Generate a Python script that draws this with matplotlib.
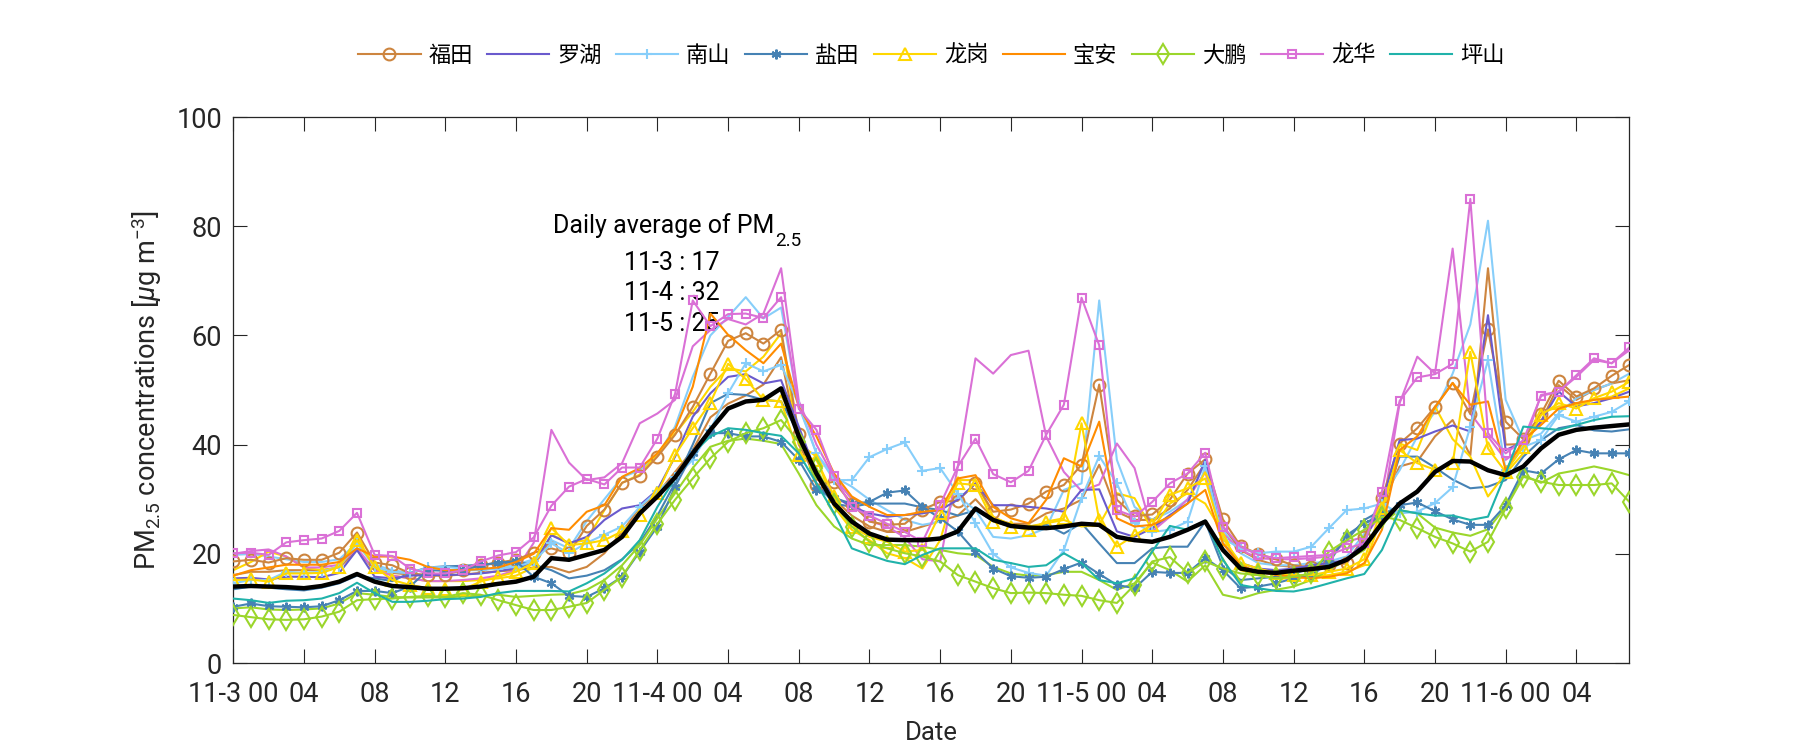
import numpy as np
import matplotlib
matplotlib.use("Agg")
import matplotlib.pyplot as plt

plt.rcParams.update({"font.family": ["Roboto", "Noto Sans CJK SC"],
                     "mathtext.fontset": "custom", "mathtext.rm": "Roboto",
                     "mathtext.it": "Roboto:italic", "mathtext.bf": "Roboto:bold",
                     "axes.unicode_minus": False})

hours = np.arange(80)   # 11-3 00 .. 11-6 07, hourly

avg = [14.0, 14.1, 14.0, 13.9, 13.7, 14.1, 14.9, 16.3, 14.9, 14.1,
       13.9, 13.6, 13.6, 13.7, 14.0, 14.5, 14.9, 15.8, 19.2, 18.9,
       19.8, 20.7, 23.1, 27.4, 30.5, 34.0, 38.4, 42.7, 46.6, 47.9,
       48.2, 50.3, 41.5, 34.7, 29.2, 25.9, 23.7, 22.6, 22.5, 22.5,
       22.8, 24.1, 28.3, 26.2, 25.1, 24.8, 24.7, 25.0, 25.5, 25.3,
       23.1, 22.5, 22.2, 23.1, 24.4, 25.9, 20.7, 17.3, 16.7, 16.5,
       16.9, 17.2, 17.6, 18.9, 21.3, 25.6, 29.2, 31.4, 35.0, 37.0,
       36.9, 35.3, 34.4, 36.0, 39.3, 41.8, 42.7, 43.1, 43.4, 43.7]

futian = [18.6, 18.9, 18.4, 19.2, 18.9, 18.9, 20.2, 23.9, 18.4, 17.9,
          16.4, 16.1, 16.2, 17.0, 17.9, 18.4, 18.9, 20.2, 21.0, 20.1,
          25.1, 28.1, 33.0, 34.3, 37.8, 41.8, 46.9, 53.0, 59.0, 60.4,
          58.5, 61.0, 42.0, 32.6, 33.2, 29.2, 25.9, 25.3, 25.5, 28.1,
          29.5, 29.7, 32.9, 27.7, 28.1, 29.2, 31.4, 32.6, 36.3, 51.0,
          29.9, 26.9, 27.2, 29.9, 34.7, 37.3, 26.3, 21.4, 20.0, 19.0,
          17.9, 17.5, 17.9, 18.3, 23.1, 30.2, 40.2, 43.0, 46.9, 51.3,
          45.6, 61.1, 44.2, 41.0, 45.6, 51.7, 48.8, 50.3, 52.6, 54.6]
futian_b = [16.1, 16.7, 16.7, 17.0, 17.0, 17.0, 17.5, 20.7, 17.0, 16.5,
            16.2, 16.0, 16.0, 16.2, 16.5, 16.8, 17.0, 17.5, 17.6, 16.6,
            17.6, 20.1, 24.0, 28.5, 31.0, 35.0, 39.0, 45.0, 47.5, 49.0,
            51.0, 56.0, 40.0, 34.0, 30.0, 27.0, 25.0, 24.0, 24.0, 25.0,
            26.0, 27.0, 30.0, 26.5, 25.5, 25.5, 27.4, 28.3, 29.9, 36.3,
            27.7, 26.2, 26.2, 28.3, 31.7, 36.6, 25.0, 20.7, 18.9, 17.9,
            17.6, 17.6, 17.9, 18.3, 22.5, 28.9, 36.0, 36.9, 41.5, 44.5,
            38.0, 72.3, 40.0, 40.1, 44.2, 50.9, 48.2, 50.0, 51.2, 51.8]
luohu = [15.5, 15.6, 15.3, 15.8, 15.8, 15.7, 16.5, 20.7, 15.8, 15.5,
         16.0, 16.1, 16.1, 16.2, 16.4, 16.8, 17.4, 18.3, 23.4, 21.9,
         23.1, 26.2, 28.3, 28.9, 31.7, 37.8, 45.1, 49.4, 52.4, 52.9,
         51.2, 51.8, 43.3, 34.7, 30.5, 28.6, 27.4, 26.8, 27.1, 27.4,
         28.0, 29.9, 32.9, 28.9, 28.9, 28.6, 28.3, 27.7, 31.7, 31.8,
         24.1, 23.1, 24.7, 27.1, 29.2, 37.2, 21.9, 18.3, 17.3, 17.0,
         17.3, 17.9, 18.3, 18.9, 22.2, 29.2, 40.8, 41.1, 42.4, 43.5,
         42.4, 63.7, 39.0, 40.5, 44.2, 49.7, 47.0, 47.6, 48.5, 49.7]
nanshan = [14.6, 15.2, 15.2, 16.7, 16.5, 16.7, 17.6, 21.9, 17.6, 16.7,
           16.4, 17.5, 17.6, 17.3, 17.0, 17.3, 17.6, 18.6, 21.9, 20.1,
           22.0, 23.5, 25.0, 28.6, 31.5, 34.0, 37.2, 42.7, 49.4, 54.9,
           53.4, 54.6, 47.3, 38.4, 33.5, 33.5, 37.7, 39.2, 40.4, 35.2,
           35.7, 31.0, 25.6, 20.0, 17.5, 16.5, 16.0, 20.7, 30.2, 37.9,
           32.9, 25.6, 24.0, 24.4, 25.9, 36.0, 22.8, 21.0, 20.1, 20.4,
           20.4, 21.3, 24.7, 28.0, 28.3, 29.2, 27.4, 27.7, 29.3, 32.2,
           43.3, 55.5, 35.3, 39.6, 40.8, 45.4, 44.2, 45.1, 46.0, 47.9]
nanshan_b = [19.8, 20.0, 19.5, 19.0, 18.5, 18.5, 19.0, 22.0, 18.0, 17.0,
             16.5, 16.0, 16.5, 17.0, 17.0, 17.5, 18.0, 19.0, 22.5, 21.0,
             26.0, 30.0, 34.0, 35.3, 38.0, 43.3, 52.4, 60.0, 63.4, 67.0,
             63.1, 65.1, 47.0, 38.4, 34.1, 32.3, 29.9, 28.0, 26.2, 25.3,
             25.9, 30.5, 28.0, 23.1, 22.8, 23.4, 24.7, 31.7, 32.9, 66.4,
             37.2, 28.6, 26.2, 27.7, 29.9, 36.6, 24.4, 20.1, 18.3, 17.9,
             17.9, 18.3, 18.6, 19.5, 23.7, 30.5, 35.3, 41.5, 46.0, 53.0,
             62.0, 81.0, 48.2, 40.8, 42.0, 45.7, 48.5, 50.0, 51.2, 53.0]
yantian = [10.3, 10.9, 10.4, 10.3, 10.2, 10.4, 11.5, 13.2, 13.2, 12.8,
           14.0, 17.0, 16.9, 17.0, 17.9, 18.4, 18.6, 15.8, 14.6, 12.3,
           12.1, 13.7, 15.8, 20.4, 25.0, 32.3, 38.4, 42.1, 42.1, 41.5,
           41.5, 40.5, 37.2, 31.7, 30.2, 29.2, 29.5, 31.2, 31.6, 28.6,
           26.5, 24.1, 20.4, 17.3, 15.9, 15.6, 15.8, 17.2, 18.4, 16.3,
           14.3, 13.7, 16.7, 16.5, 16.5, 19.2, 17.0, 13.7, 14.0, 14.6,
           15.5, 16.1, 18.3, 23.4, 25.6, 27.1, 28.9, 29.4, 27.8, 26.3,
           25.3, 25.3, 28.9, 35.3, 34.7, 37.3, 39.0, 38.4, 38.4, 38.4]
yantian_b = [13.5, 14.0, 13.8, 13.5, 13.3, 13.8, 14.6, 16.0, 15.5, 15.0,
             16.5, 17.5, 17.7, 17.8, 18.0, 18.2, 18.5, 18.0, 17.0, 15.5,
             16.0, 17.0, 19.0, 22.0, 27.0, 33.0, 40.0, 47.6, 49.3, 49.1,
             48.2, 47.9, 42.0, 32.9, 29.2, 28.6, 29.2, 29.2, 29.2, 28.5,
             28.0, 27.0, 28.0, 26.0, 25.0, 25.0, 25.3, 23.7, 25.6, 21.9,
             18.3, 18.3, 21.0, 21.3, 21.3, 25.9, 17.6, 15.2, 15.5, 15.8,
             16.4, 17.3, 19.5, 22.5, 26.2, 28.0, 37.8, 37.8, 35.8, 33.6,
             32.0, 32.3, 33.5, 37.8, 40.8, 43.0, 43.6, 42.6, 42.4, 42.8]
longgang = [15.2, 15.3, 14.9, 16.4, 16.4, 16.5, 17.6, 22.5, 17.6, 15.2,
            14.3, 13.7, 13.5, 13.5, 14.9, 15.8, 16.7, 18.4, 24.7, 21.6,
            21.9, 22.5, 24.1, 27.1, 31.1, 38.1, 43.0, 47.7, 54.8, 52.0,
            48.2, 47.9, 38.1, 37.2, 30.5, 25.0, 23.1, 22.2, 20.4, 20.7,
            27.4, 32.9, 32.6, 25.9, 25.0, 24.4, 25.9, 26.5, 43.9, 26.2,
            21.3, 23.4, 25.3, 30.8, 32.0, 33.8, 22.8, 18.3, 17.3, 16.5,
            16.1, 16.1, 16.7, 17.3, 19.0, 28.3, 39.0, 36.6, 35.4, 36.6,
            57.0, 39.3, 35.0, 39.6, 45.4, 47.6, 46.6, 48.5, 49.7, 51.5]
longgang_b = [17.0, 18.5, 20.4, 19.5, 17.5, 17.0, 17.5, 23.0, 17.5, 16.0,
              15.5, 15.0, 15.0, 15.0, 15.2, 15.5, 16.0, 17.5, 23.5, 22.0,
              22.5, 28.0, 33.0, 34.5, 38.4, 42.0, 46.0, 50.6, 54.0, 53.4,
              56.1, 60.4, 40.2, 37.8, 28.6, 24.4, 22.5, 20.1, 19.2, 17.3,
              22.5, 33.5, 33.5, 26.8, 25.3, 25.0, 25.6, 26.2, 25.0, 25.3,
              31.1, 30.2, 24.4, 29.2, 31.1, 29.2, 23.7, 17.0, 16.1, 15.5,
              15.5, 15.8, 16.1, 16.7, 17.9, 26.8, 40.2, 39.0, 47.0, 41.0,
              37.8, 30.5, 34.7, 38.4, 45.7, 47.0, 47.3, 48.2, 48.8, 50.3]
baoan = [16.0, 17.0, 17.5, 18.0, 18.0, 18.0, 18.5, 21.0, 19.5, 19.5,
         18.9, 17.6, 17.0, 17.0, 17.2, 17.5, 18.5, 20.0, 24.7, 24.4,
         27.7, 28.9, 34.1, 35.7, 38.4, 42.7, 50.6, 64.0, 60.1, 57.3,
         54.9, 58.5, 46.9, 41.5, 34.7, 30.5, 28.6, 27.1, 27.1, 27.7,
         28.0, 33.8, 34.4, 28.6, 26.5, 25.6, 29.9, 37.5, 36.0, 44.2,
         26.5, 25.0, 25.3, 26.8, 29.2, 31.7, 21.9, 17.9, 16.7, 16.1,
         15.8, 15.5, 15.8, 16.4, 18.3, 24.4, 39.0, 41.5, 46.8, 51.3,
         47.3, 47.9, 35.3, 40.8, 43.6, 46.6, 47.6, 48.2, 48.5, 48.8]
dapeng = [8.8, 8.4, 8.0, 7.9, 8.0, 8.5, 9.4, 11.5, 11.7, 11.8,
          12.1, 12.3, 12.1, 12.8, 12.5, 11.5, 10.6, 9.7, 9.7, 10.3,
          11.0, 13.4, 15.8, 20.7, 25.5, 29.9, 33.8, 37.5, 40.5, 42.1,
          43.0, 44.5, 40.5, 35.7, 29.2, 25.0, 22.2, 21.0, 20.1, 19.5,
          18.6, 16.1, 14.9, 13.7, 12.8, 12.9, 12.8, 12.5, 12.3, 11.5,
          11.0, 14.3, 18.6, 19.4, 16.5, 18.6, 17.3, 16.4, 16.1, 15.5,
          15.8, 16.4, 20.4, 22.5, 24.4, 26.8, 26.2, 24.7, 23.1, 21.9,
          20.4, 22.2, 28.3, 34.1, 33.2, 32.6, 32.6, 32.6, 32.9, 29.5]
dapeng_b = [10.0, 10.2, 9.8, 9.7, 9.8, 10.0, 10.9, 12.8, 12.5, 12.1,
            12.0, 12.0, 12.0, 12.2, 12.3, 12.5, 12.1, 12.3, 12.5, 12.6,
            13.4, 15.2, 17.9, 21.6, 26.5, 31.1, 35.7, 39.6, 40.7, 41.1,
            40.7, 40.1, 34.7, 28.9, 25.0, 22.8, 21.6, 21.6, 21.6, 21.3,
            20.7, 20.1, 19.8, 17.6, 16.4, 16.0, 16.1, 16.7, 16.7, 15.2,
            13.4, 14.6, 18.4, 17.0, 14.9, 17.9, 12.5, 11.8, 12.8, 13.4,
            14.0, 15.2, 17.0, 18.9, 20.7, 25.6, 28.0, 27.4, 24.8, 23.9,
            23.3, 24.5, 28.6, 34.4, 33.0, 34.7, 35.3, 36.0, 35.3, 34.4]
longhua = [20.1, 20.2, 19.8, 22.1, 22.5, 22.8, 24.2, 27.5, 19.8, 19.6,
           17.3, 16.4, 16.4, 17.0, 18.6, 19.7, 20.3, 23.0, 28.8, 32.3,
           33.7, 32.7, 35.8, 35.8, 41.1, 49.3, 66.4, 61.7, 63.9, 64.0,
           63.2, 67.0, 46.6, 42.7, 34.2, 28.5, 27.0, 25.5, 24.0, 22.2,
           29.0, 36.0, 41.1, 34.6, 33.1, 35.2, 41.8, 47.3, 66.9, 58.2,
           28.0, 26.8, 29.5, 32.9, 34.7, 38.5, 25.0, 21.3, 19.8, 19.2,
           19.4, 19.6, 19.8, 21.0, 21.9, 31.4, 48.0, 52.3, 52.9, 54.8,
           85.0, 42.1, 38.4, 40.8, 48.9, 49.7, 52.7, 55.8, 54.9, 57.8]
longhua_b = [20.0, 20.5, 20.8, 19.5, 17.5, 17.5, 18.0, 21.0, 17.0, 16.0,
             15.5, 15.0, 15.0, 15.2, 15.5, 16.0, 17.0, 22.0, 42.7, 36.7,
             33.5, 34.0, 36.6, 43.9, 45.7, 48.2, 58.0, 61.0, 63.0, 62.0,
             64.0, 72.3, 48.0, 40.0, 34.0, 30.0, 26.0, 25.0, 23.0, 19.0,
             18.6, 36.0, 55.8, 53.0, 56.4, 57.2, 41.5, 35.0, 31.5, 32.7,
             40.2, 35.7, 24.1, 26.8, 30.0, 35.0, 23.7, 20.7, 19.2, 19.0,
             19.0, 19.2, 19.5, 22.2, 23.1, 27.4, 47.6, 56.1, 53.0, 75.9,
             45.7, 41.5, 37.2, 39.6, 49.1, 49.7, 52.4, 55.5, 54.9, 57.3]
pingshan = [11.8, 11.5, 11.0, 11.4, 11.5, 11.8, 12.8, 14.7, 12.8, 11.2,
            11.2, 11.4, 11.7, 11.8, 12.1, 12.8, 13.2, 13.2, 13.2, 13.1,
            14.6, 16.4, 18.9, 22.5, 28.6, 33.8, 38.4, 41.5, 43.0, 42.7,
            42.1, 41.6, 38.4, 32.9, 27.4, 21.0, 19.8, 18.7, 18.1, 19.8,
            21.0, 21.0, 21.0, 18.9, 18.3, 17.6, 17.9, 20.1, 18.3, 15.2,
            14.6, 15.5, 20.4, 25.1, 24.4, 26.1, 18.9, 14.3, 13.7, 13.2,
            13.1, 13.7, 14.6, 15.5, 16.3, 20.7, 28.0, 27.4, 27.0, 27.0,
            26.2, 26.8, 34.7, 43.3, 43.0, 42.7, 43.6, 44.5, 45.1, 45.2]

names = ["福田", "罗湖", "南山", "盐田", "龙岗", "宝安", "大鹏", "龙华", "坪山"]
colors = ["#CD853F", "#6A5ACD", "#87CEFA", "#4682B4", "#FFD700",
          "#FF8C00", "#9BD62B", "#DA70D6", "#20B2AA"]
markers = ["o", None, "+", (6, 2, 0), "^", None, "d", "s", None]
msize = [8.5, 0, 7, 7, 8, 0, 10, 6, 0]
main = [futian, luohu, nanshan, yantian, longgang, baoan, dapeng, longhua, pingshan]
second = [futian_b, None, nanshan_b, yantian_b, longgang_b, None, dapeng_b, longhua_b, None]

fig = plt.figure(figsize=(18, 7.5), dpi=100)
ax = fig.add_axes([0.1296, 0.116, 0.7756, 0.728])

# second station per district: plain line, same colour
for s, c in zip(second, colors):
    if s is not None:
        ax.plot(hours, s, color=c, lw=1.5, zorder=2)

handles = []
for n, s, c, m, ms in zip(names, main, colors, markers, msize):
    h, = ax.plot(hours, s, color=c, lw=1.5, marker=m, ms=ms, mfc="none",
                 mec=c, mew=1.5, label=n, zorder=3)
    handles.append(h)

ax.plot(hours, avg, color="k", lw=3.2, zorder=4)

ax.set_xlim(0, 79)
ax.set_ylim(0, 100)
ticks = np.arange(0, 80, 4)
labels = [f"11-{3 + t // 24} 00" if t % 24 == 0 else f"{t % 24:02d}" for t in ticks]
ax.set_xticks(ticks)
ax.set_xticklabels(labels)
ax.set_yticks(np.arange(0, 101, 20))
ax.tick_params(direction="in", length=10, width=0.8, top=True, right=True,
               labelsize=19.5, colors="#262626")
ax.tick_params(axis="x", pad=13)
ax.tick_params(axis="y", pad=8)
for sp in ax.spines.values():
    sp.set_color("#262626")
    sp.set_linewidth(0.9)

ax.set_xlabel("Date", fontsize=18.5, color="#262626", labelpad=9)
ax.set_ylabel(r"PM$_{2.5}$ concentrations [$\mu$g m$^{-3}$]", fontsize=19.5,
              color="#262626", labelpad=9)

# annotation: PM with a lowered "2.5" subscript placed after the measured text
t_head = ax.text(18.1, 78.75, "Daily average of PM", fontsize=18, va="baseline", zorder=1)
fig.canvas.draw()
bb = t_head.get_window_extent()
x0, y0 = ax.transData.transform((18.1, 78.75))
ax.text(bb.x1 + 1, y0 - 13, "2.5", fontsize=13.5, va="baseline", transform=None, zorder=1)
for yv, txt in zip([72.0, 66.4, 60.8], ["11-3 : 17", "11-4 : 32", "11-5 : 25"]):
    ax.text(22.1, yv, txt, fontsize=18, va="baseline", zorder=1)

ax.legend(handles=handles, loc="center", bbox_to_anchor=(0.5, 1.113), ncol=9,
          frameon=False, handlelength=2.8, handletextpad=0.35,
          columnspacing=0.65, prop={"family": ["Noto Sans CJK SC"], "size": 16})

fig.savefig("out.png", dpi=100)
